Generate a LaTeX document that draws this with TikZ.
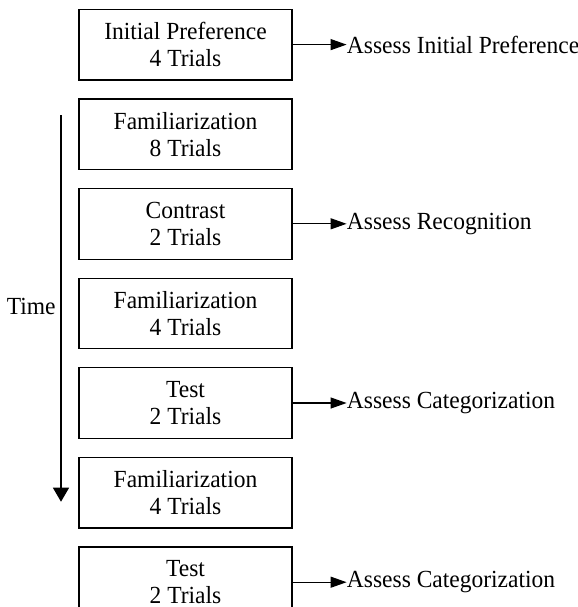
\documentclass[tikz,border=0pt]{standalone}
\usepackage{fontspec}
\setmainfont[FakeStretch=0.955]{Liberation Serif}
\usetikzlibrary{positioning, arrows.meta}

\begin{document}
\begin{tikzpicture}[
        font=\fontsize{12.3}{13.4}\selectfont,
        node distance=8.9pt,
        stage/.style={draw, line width=0.6pt, minimum width=106.5pt, minimum height=35.3pt,
            align=center, inner sep=0pt},
        assess/.style={inner sep=0pt, anchor=west},
        flow/.style={line width=0.6pt, -{Triangle[length=8pt, width=5.5pt]}}
    ]
            \useasboundingbox (0,0) rectangle (289pt,-303.5pt);
            % the sessions, top to bottom
            \node[stage] (pref) at (92.75pt,-22.3pt) {Initial Preference\\4 Trials};
            \node[stage, below=of pref] (famA) {Familiarization\\8 Trials};
            \node[stage, below=of famA] (contrast) {Contrast\\2 Trials};
            \node[stage, below=of contrast] (famB) {Familiarization\\4 Trials};
            \node[stage, below=of famB] (testA) {Test\\2 Trials};
            \node[stage, below=of testA] (famC) {Familiarization\\4 Trials};
            \node[stage, below=of famC] (testB) {Test\\2 Trials};

            % what each session measures
            \node[assess, right=27pt of pref.east] (aPref) {Assess Initial Preference};
            \node[assess, right=27pt of contrast.east] (aRec) {Assess Recognition};
            \node[assess, right=27pt of testA.east] (aCatA) {Assess Categorization};
            \node[assess, right=27pt of testB.east] (aCatB) {Assess Categorization};
            \foreach \s/\a in {pref/aPref, contrast/aRec, testA/aCatA, testB/aCatB}
                \draw[flow] (\s.east) -- (\a.west);

            % time axis
            \coordinate (tStart) at (30.5pt,-57.5pt);
            \coordinate (tEnd) at (30.5pt,-250.85pt);
            \draw[line width=0.6pt, -{Triangle[length=7pt, width=8pt]}] (tStart) -- (tEnd);
            \node[inner sep=0pt, anchor=east] (time) at (28pt,-153.35pt) {Time};
        \end{tikzpicture}
\end{document}
